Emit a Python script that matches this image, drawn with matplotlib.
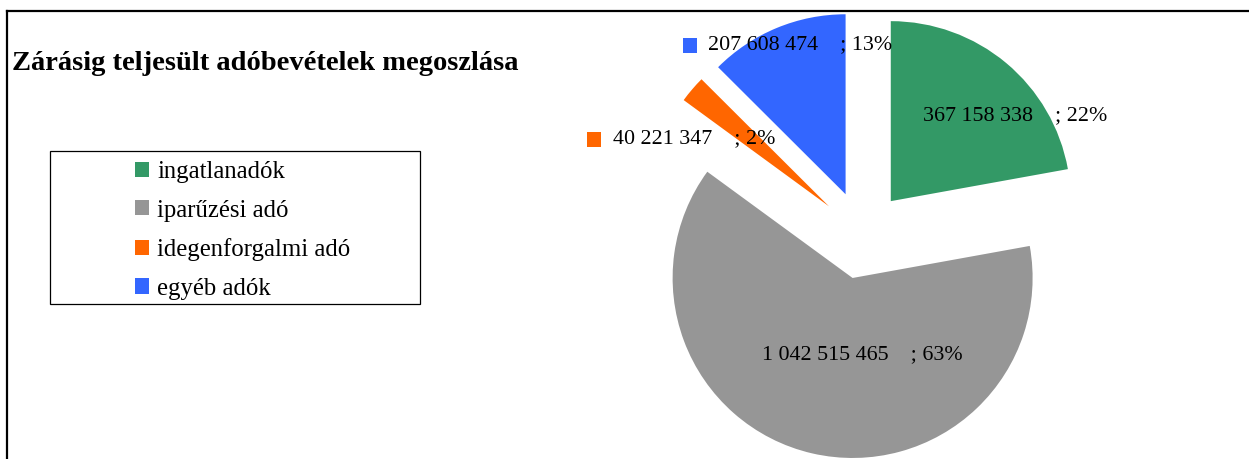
import matplotlib
matplotlib.use("Agg")
import matplotlib.pyplot as plt
from matplotlib.patches import Rectangle, Patch
from matplotlib.lines import Line2D

# ---- data ----
categories = ["ingatlanadók", "iparűzési adó", "idegenforgalmi adó", "egyéb adók"]
values = [367158338, 1042515465, 40221347, 207608474]
percent_labels = ["22%", "63%", "2%", "13%"]
colors = ["#339966", "#969696", "#FF6600", "#3366FF"]
title = "Zárásig teljesült adóbevételek megoszlása"

W, H = 1249, 459
fig = plt.figure(figsize=(W / 100, H / 100), dpi=100)
plt.rcParams['font.family'] = ['Liberation Serif', 'DejaVu Serif']

# pie axes: 1 data unit = R pixels
R = 180.0
cx, cy = 862.5, 235.0  # pie centre in pixels (from top)
axp = fig.add_axes([0, 0, 1, 1])
wedges, _ = axp.pie(values, colors=colors, startangle=90, counterclock=False,
                    explode=[0.245] * len(values), radius=1.0,
                    wedgeprops=dict(linewidth=0))
axp.set_aspect('auto')
axp.set_xlim(-cx / R, (W - cx) / R)
axp.set_ylim(-(H - cy) / R, cy / R)
axp.axis('off')

# overlay axes in pixel coordinates (y down)
ax = fig.add_axes([0, 0, 1, 1], zorder=3)
ax.set_xlim(0, W)
ax.set_ylim(H, 0)
ax.axis('off')

# outer frame (only top and left visible)
ax.add_line(Line2D([7.5, W + 5], [11, 11], color='black', lw=1.6, clip_on=False))
ax.add_line(Line2D([7.5, 7.5], [11, H + 5], color='black', lw=1.6, clip_on=False))

# title
ax.text(12, 64, title, fontsize=20.5, fontweight='bold', va='center', ha='left')

# data labels
def fmt(v):
    return f"{v:,}".replace(",", " ")

label_pos = [(1015, 116), (862, 355), (694, 139), (800, 45)]
for i, (x, y) in enumerate(label_pos):
    txt = f"{fmt(values[i])}    ; {percent_labels[i]}"
    ax.text(x, y, txt, fontsize=15.8, ha='center', va='center', color='black')
label_keys = [(587, 132, 2), (683, 38, 3)]
for kx, ky, ci in label_keys:
    ax.add_patch(Rectangle((kx, ky), 14.5, 14.5, facecolor=colors[ci], edgecolor='none'))

# legend box
ax.add_patch(Rectangle((50.5, 151), 369.5, 153, facecolor='white', edgecolor='black', lw=0.9))
handles = [Patch(facecolor=c, edgecolor='none') for c in colors]
leg = ax.legend(handles, categories, loc='upper left', bbox_to_anchor=(135 / W, 1 - 161 / H),
                bbox_transform=fig.transFigure, frameon=False, fontsize=17.8,
                handlelength=0.57, handleheight=0.57, handletextpad=0.32,
                labelspacing=0.67, borderpad=0, borderaxespad=0)

fig.savefig("out.png", dpi=100)
